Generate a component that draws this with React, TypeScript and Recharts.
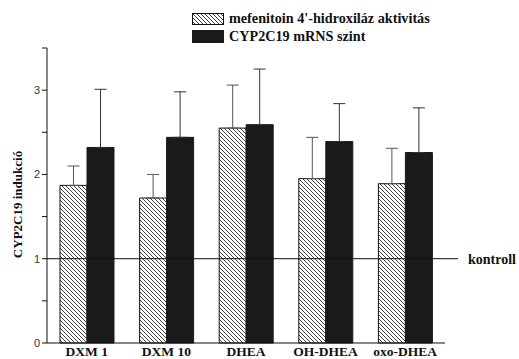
import { Bar, BarChart, ErrorBar, Legend, ReferenceLine, XAxis, YAxis, Label } from "recharts";

const SERIF = "'Liberation Serif', 'Times New Roman', serif";
const SANS = "'Liberation Sans', Arial, sans-serif";

const categories = ["DXM 1", "DXM 10", "DHEA", "OH-DHEA", "oxo-DHEA"];
const activity = [1.87, 1.72, 2.55, 1.95, 1.89];
const activityErr = [0.23, 0.28, 0.51, 0.49, 0.42];
const mrna = [2.32, 2.44, 2.59, 2.39, 2.26];
const mrnaErr = [0.69, 0.54, 0.66, 0.45, 0.53];
const yTicks = [0, 0.5, 1, 1.5, 2, 2.5, 3, 3.5];

const seriesNames = ["mefenitoin 4'-hidroxiláz aktivitás", "CYP2C19 mRNS szint"];
const yTitle = "CYP2C19 indukció";

const data = categories.map((c, i) => ({
  name: c,
  activity: activity[i],
  activityErr: [0, activityErr[i]],
  mrna: mrna[i],
  mrnaErr: [0, mrnaErr[i]],
}));

function LegendBox() {
  const row = { display: "flex", alignItems: "center", height: 17.5 } as const;
  const txt = { fontFamily: SERIF, fontWeight: "bold", fontSize: 14.2, color: "#111", marginLeft: 5, whiteSpace: "nowrap" } as const;
  return (
    <div>
      <div style={row}>
        <svg width={32} height={12} style={{ display: "block" }}>
          <rect x={0.5} y={0.5} width={31} height={11} fill="url(#hatch)" stroke="#111" />
        </svg>
        <span style={txt}>{seriesNames[0]}</span>
      </div>
      <div style={row}>
        <svg width={32} height={13} style={{ display: "block" }}>
          <rect x={0} y={0} width={32} height={13} fill="#1a1a1a" />
        </svg>
        <span style={txt}>{seriesNames[1]}</span>
      </div>
    </div>
  );
}

// rotated axis title, placed from the axis viewBox
function YTitle({ viewBox }: any) {
  const cx = 17;
  const cy = viewBox.y + viewBox.height / 2 + 9;
  return (
    <text
      x={cx}
      y={cy}
      transform={`rotate(-90, ${cx}, ${cy})`}
      textAnchor="middle"
      dominantBaseline="central"
      fontFamily={SERIF}
      fontWeight="bold"
      fontSize={13}
      fill="#111"
    >
      {yTitle}
    </text>
  );
}

export default function App() {
  return (
    <div style={{ width: 519, height: 359, background: "#fff" }}>
      <style>{`body{margin:0}`}</style>
      <BarChart
        width={519}
        height={359}
        data={data}
        margin={{ top: 48, right: 74, left: 0, bottom: 0 }}
        barGap={0}
        barSize={27}
      >
        <defs>
          <pattern id="hatch" patternUnits="userSpaceOnUse" width={4} height={4}>
            <rect width={4} height={4} fill="#fff" />
            <path d="M-1,-1 L5,5 M-1,3 L1,5 M3,-1 L5,1" stroke="#222" strokeWidth={0.85} />
          </pattern>
        </defs>
        <XAxis
          dataKey="name"
          height={16}
          tickLine={false}
          tickSize={0}
          tickMargin={3}
          axisLine={{ stroke: "#111" }}
          tick={{ fontFamily: SERIF, fontWeight: "bold", fontSize: 13.5, fill: "#111" }}
          interval={0}
        />
        <YAxis
          width={47}
          domain={[0, 3.5]}
          ticks={yTicks}
          tickSize={5}
          tickLine={{ stroke: "#111" }}
          axisLine={{ stroke: "#111" }}
          tickFormatter={(v: number) => (Number.isInteger(v) && v < 3.5 ? String(v) : "")}
          tick={{ fontFamily: SANS, fontSize: 11, fill: "#333" }}
        >
          <Label content={(p: any) => <YTitle {...p} />} />
        </YAxis>
        <Legend
          verticalAlign="middle"
          align="center"
          wrapperStyle={{ top: 10, left: 192, width: 320 }}
          content={() => <LegendBox />}
        />
        <Bar dataKey="activity" name={seriesNames[0]} fill="url(#hatch)" stroke="#111" strokeWidth={1} isAnimationActive={false}>
          <ErrorBar dataKey="activityErr" width={6} stroke="#555" strokeWidth={1} direction="y" isAnimationActive={false} />
        </Bar>
        <Bar dataKey="mrna" name={seriesNames[1]} fill="#1a1a1a" stroke="#1a1a1a" strokeWidth={1} isAnimationActive={false}>
          <ErrorBar dataKey="mrnaErr" width={6} stroke="#333" strokeWidth={1} direction="y" isAnimationActive={false} />
        </Bar>
        <ReferenceLine
          y={1}
          stroke="#111"
          strokeWidth={1}
          shape={(p: any) => <line x1={p.x1} y1={p.y1} x2={p.x2 + 13} y2={p.y2} stroke="#111" strokeWidth={1} />}
          label={{
            value: "kontroll",
            position: "right",
            offset: 23,
            fill: "#111",
            fontSize: 14,
            fontWeight: "bold",
            fontFamily: SERIF,
          }}
        />
      </BarChart>
    </div>
  );
}
